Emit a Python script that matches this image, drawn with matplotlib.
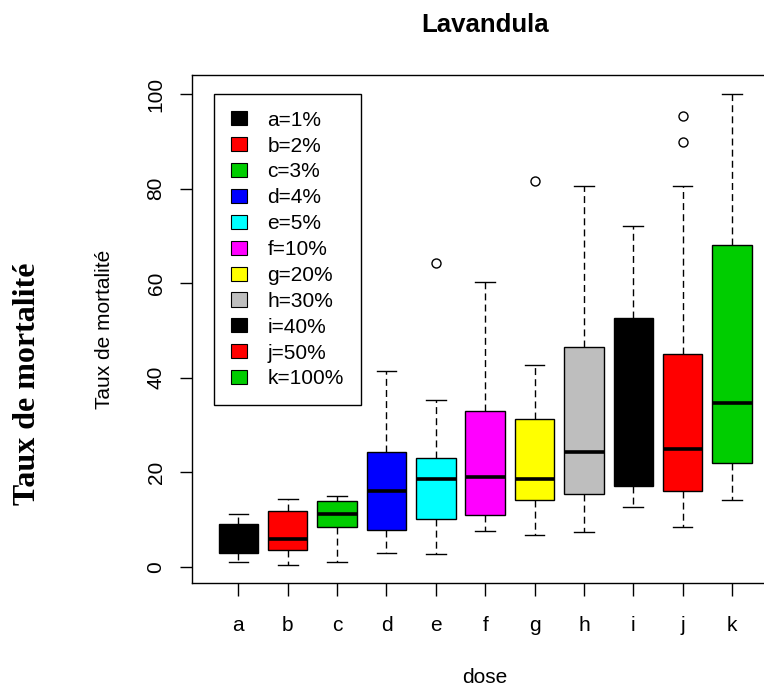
# boxplots of mortality rate per dose, Lavandula
import matplotlib
matplotlib.use("Agg")
import matplotlib.pyplot as plt
from matplotlib.patches import Patch

doses = ['a', 'b', 'c', 'd', 'e', 'f', 'g', 'h', 'i', 'j', 'k']
dose_labels = ['a=1%', 'b=2%', 'c=3%', 'd=4%', 'e=5%', 'f=10%',
               'g=20%', 'h=30%', 'i=40%', 'j=50%', 'k=100%']
box_colors = ['black', '#FF0000', '#00CD00', '#0000FF', '#00FFFF', '#FF00FF',
              '#FFFF00', '#BEBEBE', 'black', '#FF0000', '#00CD00']

# five-number summaries (lower whisker, Q1, median, Q3, upper whisker)
whis_lo = [1.1, 0.5, 1.1, 3.0, 2.7, 7.6, 6.8, 7.3, 12.7, 8.5, 14.2]
q1 = [3.0, 3.6, 8.5, 7.9, 10.2, 11.0, 14.2, 15.4, 17.2, 16.1, 21.9]
median = [5.5, 5.9, 11.1, 16.1, 18.6, 19.0, 18.7, 24.2, 35.0, 25.0, 34.7]
q3 = [9.1, 11.9, 13.9, 24.4, 23.0, 33.0, 31.2, 46.4, 52.7, 45.0, 68.0]
whis_hi = [11.1, 14.4, 15.1, 41.4, 35.2, 60.3, 42.7, 80.5, 72.1, 80.5, 100.0]
outliers = [[], [], [], [], [64.2], [], [81.5], [], [], [89.9, 95.3], []]

plt.rcParams['font.family'] = ['Liberation Sans', 'DejaVu Sans']

stats = []
for i in range(len(doses)):
    stats.append(dict(label=doses[i], whislo=whis_lo[i], q1=q1[i], med=median[i],
                      q3=q3[i], whishi=whis_hi[i], fliers=outliers[i]))

fig = plt.figure(figsize=(7.64, 6.86), dpi=100)
ax = fig.add_axes([0.2513, 0.1501, 0.7675, 0.7405])

pos = list(range(1, len(doses) + 1))
bp = ax.bxp(stats, positions=pos, widths=0.8, capwidths=0.4, patch_artist=True,
            boxprops=dict(edgecolor='black', linewidth=1.0),
            medianprops=dict(color='black', linewidth=2.6, solid_capstyle='butt'),
            whiskerprops=dict(color='black', linewidth=1.0, linestyle=(0, (5, 3))),
            capprops=dict(color='black', linewidth=1.0),
            flierprops=dict(marker='o', markersize=6.5, markerfacecolor='none',
                            markeredgecolor='black', markeredgewidth=1.0))
for patch, c in zip(bp['boxes'], box_colors):
    patch.set_facecolor(c)

ax.set_xlim(0.06, 11.94)
ax.set_ylim(-3.4, 104)
ax.set_xticks(pos)
ax.set_xticklabels(doses)
ax.set_yticks([0, 20, 40, 60, 80, 100])
ax.tick_params(axis='x', length=9, width=1, labelsize=15, pad=15)
ax.tick_params(axis='y', length=9, width=1, labelsize=15, pad=10)
for lab in ax.get_yticklabels():
    lab.set_rotation(90)
    lab.set_va('center')
for sp in ax.spines.values():
    sp.set_linewidth(1.0)

ax.set_ylabel('Taux de mortalité', fontsize=15, va='center', ha='center')
ax.yaxis.set_label_coords(-87 / (0.7675 * 764), 0.5)
ax.set_xlabel('dose', fontsize=15, va='center', ha='center')
ax.xaxis.set_label_coords(0.5, -94 / (0.7405 * 686))

fig.text(485 / 764, 1 - 25 / 686, 'Lavandula', fontsize=18.6, fontweight='bold',
         ha='center', va='center')
fig.text(28 / 764, 1 - 384 / 686, 'Taux de mortalité', fontsize=23,
         fontweight='bold', family='Liberation Serif', rotation=90,
         ha='center', va='center')

handles = [Patch(facecolor=c, edgecolor='black', linewidth=0.8) for c in box_colors]
leg = ax.legend(handles, dose_labels, loc='upper left',
                bbox_to_anchor=(214 / 764, 1 - 94 / 686),
                bbox_transform=fig.transFigure, fontsize=15, frameon=True,
                fancybox=False, edgecolor='black', framealpha=1,
                borderaxespad=0, borderpad=0.8, labelspacing=0.33,
                handlelength=0.77, handleheight=0.67, handletextpad=1.0)
leg.get_frame().set_linewidth(1.0)

fig.savefig('out.png', dpi=100)
